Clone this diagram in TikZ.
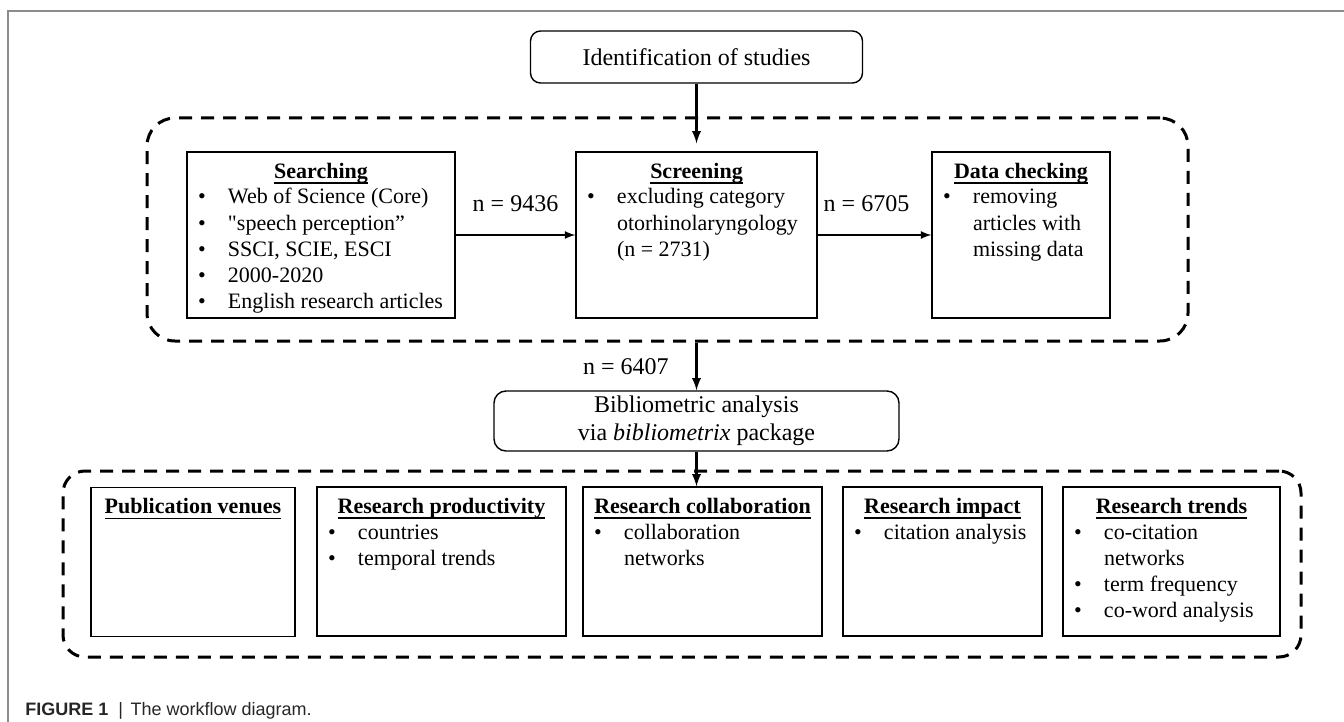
\documentclass[tikz,border=0pt]{standalone}
\usepackage{fontspec}
\setmainfont{Liberation Serif}[Ligatures=TeXOff]
\setsansfont{Liberation Sans}
\usepackage{tikz}
\usetikzlibrary{arrows}

\definecolor{framegray}{RGB}{140,140,140}

% underlined bold heading, rule at a fixed distance below the baseline
\newcommand{\headline}[1]{\leavevmode\setbox0=\hbox{\textbf{#1}}\dp0=0pt\vtop{\copy0\kern2.2pt\hrule height 0.7pt}}
% bullet entry with hanging indent
\newcommand{\stageitem}[1]{\par\hangindent=20.5pt\hangafter=1\noindent\hbox to 20.5pt{\hskip5.5pt\textbullet\hfil}#1}
% box body: width, height, heading, entries
\newcommand{\stagebody}[4]{\parbox[c][#2][t]{#1}{\fontsize{11pt}{13pt}\selectfont
  \centering\rule{0pt}{13pt}\headline{#3}\par\raggedright #4}}

\begin{document}
\begin{tikzpicture}[x=0.5pt, y=-0.5pt,
	stage/.style={draw, line width=0.7pt, inner sep=0pt},
	roundbox/.style={draw, line width=0.7pt, rounded corners=5pt, inner sep=0pt, align=center, font=\fontsize{12pt}{14pt}\selectfont},
	group/.style={draw, line width=1.5pt, dash pattern=on 6.5pt off 4.5pt, rounded corners=14pt, inner sep=0pt},
	flow/.style={line width=0.8pt, -latex},
	feed/.style={line width=1.1pt, -latex},
	count/.style={font=\fontsize{12pt}{14pt}\selectfont}]
		\useasboundingbox (0,0) rectangle (1344,722);
%		\draw[help lines, step=100] (0,0) grid (1344,722);
		\draw[framegray, line width=0.8pt] (8,722) -- (8,11) -- (1344,11);

		\path (696.5,57) node(ident) [roundbox, minimum width=166pt, minimum height=26pt] {Identification of studies};

		% first phase
		\path (667.5,229.5) node(phaseone) [group, minimum width=520.5pt, minimum height=111.5pt] {};
		\path (321,235) node(search) [stage] {\stagebody{134pt}{83pt}{Searching}{%
			\stageitem{Web of Science (Core)}
			\stageitem{"speech perception”}
			\stageitem{SSCI, SCIE, ESCI}
			\stageitem{2000-2020}
			\stageitem{English research articles}}};
		\path (696.5,235) node(screen) [stage] {\stagebody{120.5pt}{83pt}{Screening}{%
			\stageitem{excluding category\newline otorhinolaryngology\newline (n = 2731)}}};
		\path (1021,235) node(check) [stage] {\stagebody{89pt}{83pt}{Data checking}{%
			\stageitem{removing\newline articles with\newline missing data}}};

		\draw[feed, shorten >=4pt] (ident.south) -- (screen.north);
		\draw[flow] (search) -- node[count, above=8pt] {n = 9436} (screen);
		\draw[flow] (screen) -- node[count, above=8pt, xshift=-4pt] {n = 6705} (check);

		\path (696.5,421) node(biblio) [roundbox, rounded corners=6pt, minimum width=202.5pt, minimum height=30pt] {Bibliometric analysis\\via \textit{bibliometrix} package};
		\draw[feed] (biblio.north |- phaseone.south) -- node[count, left=10pt] {n = 6407} (biblio.north);

		% second phase
		\path (682,564) node(phasetwo) [group, rounded corners=11pt, minimum width=619pt, minimum height=93pt] {};
		\path (193,562) node(venues) [stage] {\stagebody{102pt}{74.5pt}{Publication venues}{}};
		\path (441.5,561.5) node(product) [stage] {\stagebody{124.5pt}{74.5pt}{Research productivity}{%
			\stageitem{countries}
			\stageitem{temporal trends}}};
		\path (702.5,561.5) node(collab) [stage] {\stagebody{119.5pt}{74.5pt}{Research collaboration}{%
			\stageitem{collaboration\newline networks}}};
		\path (942.5,561.5) node(impact) [stage] {\stagebody{99.5pt}{74.5pt}{Research impact}{%
			\stageitem{citation analysis}}};
		\path (1171.5,561.5) node(trends) [stage] {\stagebody{108.5pt}{74.5pt}{Research trends}{%
			\stageitem{co-citation\newline networks}
			\stageitem{term frequency}
			\stageitem{co-word analysis}}};

		\draw[feed] (biblio.south) -- (biblio.south |- collab.north);

		\path (25,715) node(caption) [anchor=base west, inner sep=0pt, text=black!85, font=\sffamily\fontsize{9pt}{11pt}\selectfont] {\textbf{FIGURE 1}\hspace{5pt}|\hspace{3.8pt}The workflow diagram.};
	\end{tikzpicture}
\end{document}
